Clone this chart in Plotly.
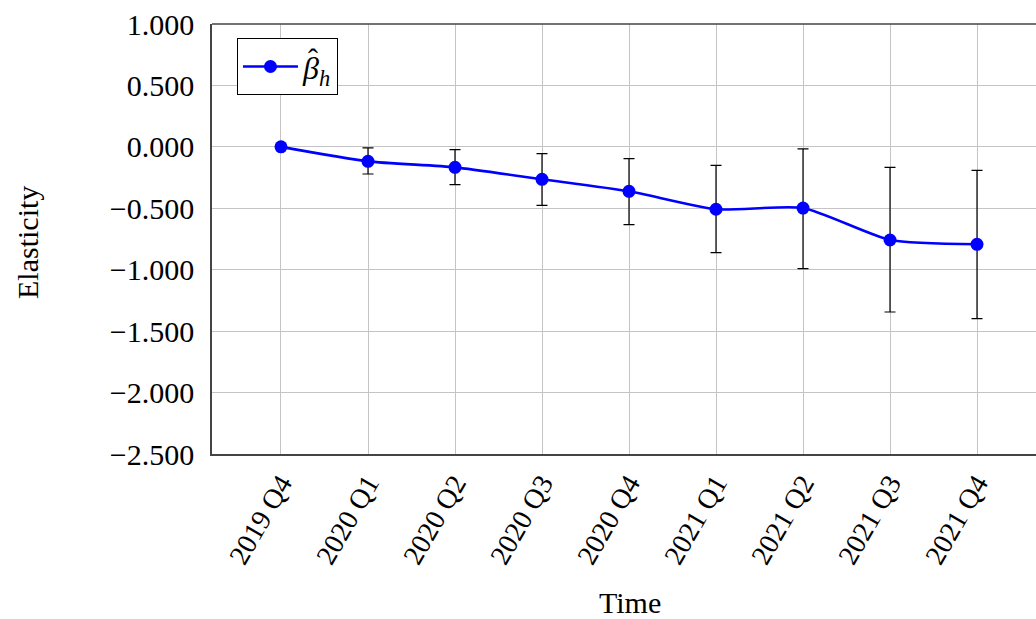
import plotly.graph_objects as go

quarters = ["2019 Q4", "2020 Q1", "2020 Q2", "2020 Q3", "2020 Q4",
            "2021 Q1", "2021 Q2", "2021 Q3", "2021 Q4"]
beta = [0.000, -0.118, -0.167, -0.264, -0.362, -0.508, -0.498, -0.758, -0.793]
upper = [0.000, -0.009, -0.023, -0.055, -0.096, -0.150, -0.017, -0.167, -0.191]
lower = [0.000, -0.221, -0.308, -0.476, -0.633, -0.861, -0.991, -1.344, -1.398]
y_ticks = [1.0, 0.5, 0.0, -0.5, -1.0, -1.5, -2.0, -2.5]

err_plus = [u - b for u, b in zip(upper, beta)]
err_minus = [b - l for b, l in zip(beta, lower)]

FONT = "Liberation Serif"

fig = go.Figure()
fig.add_trace(go.Scatter(
    x=quarters, y=beta, mode="lines+markers",
    name="<i>β</i><sub><i>h</i></sub>",
    line=dict(color="#0000ff", width=2.6, shape="spline", smoothing=0.6),
    marker=dict(color="#0000ff", size=13),
    error_y=dict(type="data", symmetric=False, array=err_plus, arrayminus=err_minus,
                 color="black", thickness=1.2, width=5.5),
))

fig.update_layout(
    width=1036, height=619,
    margin=dict(l=212, r=0, t=24, b=165),
    paper_bgcolor="white", plot_bgcolor="white",
    font=dict(family=FONT, size=30, color="black"),
    showlegend=True,
    legend=dict(x=0.0303, y=0.967, xanchor="left", yanchor="top",
                bordercolor="black", borderwidth=1, bgcolor="white",
                itemwidth=55,
                font=dict(family=FONT, size=32)),
)
fig.update_xaxes(
    type="category", range=[-0.793, 8.678],
    tickangle=-60, showgrid=True, gridcolor="#c4c4c4", gridwidth=1,
    showline=True, linecolor="#444444", linewidth=1.5,
    ticks="", tickfont=dict(family=FONT, size=28),
)
fig.update_yaxes(
    range=[-2.5, 1.0], tickvals=y_ticks, tickformat=".3f",
    showgrid=True, gridcolor="#c4c4c4", gridwidth=1, zeroline=False,
    showline=True, linecolor="#444444", linewidth=1.5,
    ticks="", ticklabelstandoff=10, ticklabeloverflow="allow",
    tickfont=dict(family=FONT, size=30),
)
# top frame line (right side of the plot is cropped in the reference)
fig.add_shape(type="line", xref="paper", yref="paper", x0=0, x1=1, y0=1, y1=1,
              line=dict(color="#444444", width=1.5))
# hat over beta in the legend label
fig.add_annotation(text="ˆ", xref="paper", yref="paper", x=0.1226, y=0.919,
                   xanchor="center", yanchor="middle", showarrow=False,
                   font=dict(family=FONT, size=30))
fig.add_annotation(text="Time", xref="paper", yref="paper", x=0.507, y=-0.3465,
                   xanchor="center", yanchor="middle", showarrow=False,
                   font=dict(family=FONT, size=30))
fig.add_annotation(text="Elasticity", xref="paper", yref="paper", x=-0.2233, y=0.4907,
                   xanchor="center", yanchor="middle", showarrow=False, textangle=-90,
                   font=dict(family=FONT, size=30))

fig.write_html("out.html", config={"displayModeBar": False},
               post_script="document.body.style.margin='0';document.body.style.overflow='hidden';")
